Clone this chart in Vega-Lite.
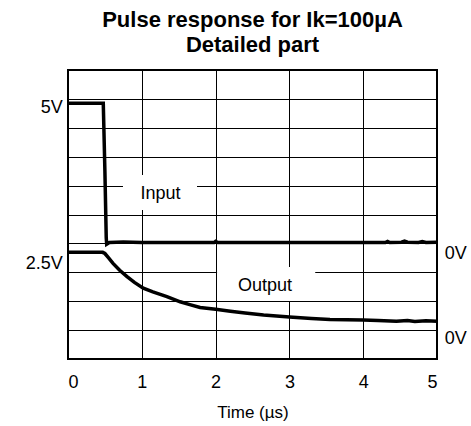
{
  "$schema": "https://vega.github.io/schema/vega-lite/v6.json",
  "width": 369,
  "height": 289,
  "autosize": {"type": "none"},
  "padding": {"left": 68, "top": 70, "right": 34, "bottom": 67},
  "background": "white",
  "title": {
    "text": ["Pulse response for Ik=100µA", "Detailed part"],
    "font": "Liberation Sans",
    "fontSize": 22,
    "fontWeight": "bold",
    "lineHeight": 25,
    "anchor": "middle",
    "color": "black",
    "offset": 13
  },
  "config": {
    "view": {"stroke": "black", "strokeWidth": 2},
    "font": "Liberation Sans",
    "axis": {
      "grid": true,
      "gridColor": "black",
      "gridOpacity": 1,
      "gridWidth": 1,
      "domain": false,
      "ticks": false,
      "labelFont": "Liberation Sans",
      "titleFont": "Liberation Sans",
      "labelColor": "black",
      "titleColor": "black"
    }
  },
  "datasets": {
    "signals": [
      {"t": 0, "v": 8.85, "series": "Input"},
      {"t": 0.478, "v": 8.85, "series": "Input"},
      {"t": 0.5, "v": 6.5, "series": "Input"},
      {"t": 0.518, "v": 4.2, "series": "Input"},
      {"t": 0.524, "v": 3.97, "series": "Input"},
      {"t": 0.56, "v": 4.03, "series": "Input"},
      {"t": 0.75, "v": 4.05, "series": "Input"},
      {"t": 1.0, "v": 4.03, "series": "Input"},
      {"t": 1.5, "v": 4.03, "series": "Input"},
      {"t": 1.98, "v": 4.03, "series": "Input"},
      {"t": 2.0, "v": 4.07, "series": "Input"},
      {"t": 2.03, "v": 4.03, "series": "Input"},
      {"t": 3.0, "v": 4.03, "series": "Input"},
      {"t": 4.0, "v": 4.03, "series": "Input"},
      {"t": 4.3, "v": 4.03, "series": "Input"},
      {"t": 4.33, "v": 4.07, "series": "Input"},
      {"t": 4.36, "v": 4.03, "series": "Input"},
      {"t": 4.52, "v": 4.04, "series": "Input"},
      {"t": 4.56, "v": 4.08, "series": "Input"},
      {"t": 4.6, "v": 4.04, "series": "Input"},
      {"t": 4.75, "v": 4.03, "series": "Input"},
      {"t": 4.8, "v": 4.06, "series": "Input"},
      {"t": 4.85, "v": 4.03, "series": "Input"},
      {"t": 5.0, "v": 4.04, "series": "Input"},
      {"t": 0, "v": 3.69, "series": "Output"},
      {"t": 0.47, "v": 3.69, "series": "Output"},
      {"t": 0.5, "v": 3.65, "series": "Output"},
      {"t": 0.55, "v": 3.5, "series": "Output"},
      {"t": 0.61, "v": 3.31, "series": "Output"},
      {"t": 0.7, "v": 3.07, "series": "Output"},
      {"t": 0.8, "v": 2.85, "series": "Output"},
      {"t": 0.9, "v": 2.65, "series": "Output"},
      {"t": 1.02, "v": 2.45, "series": "Output"},
      {"t": 1.15, "v": 2.32, "series": "Output"},
      {"t": 1.34, "v": 2.16, "series": "Output"},
      {"t": 1.52, "v": 1.98, "series": "Output"},
      {"t": 1.65, "v": 1.88, "series": "Output"},
      {"t": 1.79, "v": 1.78, "series": "Output"},
      {"t": 2.0, "v": 1.72, "series": "Output"},
      {"t": 2.2, "v": 1.65, "series": "Output"},
      {"t": 2.4, "v": 1.59, "series": "Output"},
      {"t": 2.65, "v": 1.52, "series": "Output"},
      {"t": 3.0, "v": 1.45, "series": "Output"},
      {"t": 3.3, "v": 1.4, "series": "Output"},
      {"t": 3.55, "v": 1.37, "series": "Output"},
      {"t": 4.0, "v": 1.35, "series": "Output"},
      {"t": 4.2, "v": 1.33, "series": "Output"},
      {"t": 4.45, "v": 1.31, "series": "Output"},
      {"t": 4.6, "v": 1.33, "series": "Output"},
      {"t": 4.7, "v": 1.3, "series": "Output"},
      {"t": 4.85, "v": 1.32, "series": "Output"},
      {"t": 5.0, "v": 1.31, "series": "Output"}
    ],
    "labels": [
      {"t": -0.07, "v": 8.69, "label": "5V", "side": "left"},
      {"t": -0.07, "v": 3.27, "label": "2.5V", "side": "left"},
      {"t": 5.105, "v": 3.62, "label": "0V", "side": "right"},
      {"t": 5.105, "v": 0.69, "label": "0V", "side": "right"},
      {"t": 1.253, "v": 5.7, "label": "Input", "side": "center"},
      {"t": 2.67, "v": 2.54, "label": "Output", "side": "center"}
    ],
    "boxes": [
      {"t1": 0.745, "t2": 1.748, "v1": 5.16, "v2": 6.37},
      {"t1": 2.02, "t2": 3.35, "v1": 2.01, "v2": 3.18}
    ]
  },
  "layer": [
    {
      "data": {"name": "boxes"},
      "mark": {"type": "rect", "color": "white"},
      "encoding": {
        "x": {"field": "t1", "type": "quantitative", "scale": {"domain": [0, 5]},
          "axis": {"values": [0, 1, 2, 3, 4, 5], "format": "d", "title": "Time (µs)", "labelFontSize": 18, "titleFontSize": 17, "titleFontWeight": "normal", "labelPadding": 14, "titlePadding": 13}},
        "x2": {"field": "t2"},
        "y": {"field": "v1", "type": "quantitative", "scale": {"domain": [0, 10]},
          "axis": {"values": [0, 1, 2, 3, 4, 5, 6, 7, 8, 9, 10], "labels": false, "title": null}},
        "y2": {"field": "v2"}
      }
    },
    {
      "data": {"name": "signals"},
      "mark": {"type": "line", "color": "black", "strokeWidth": 3.5, "strokeJoin": "miter"},
      "encoding": {
        "x": {"field": "t", "type": "quantitative", "scale": {"domain": [0, 5]},
          "axis": {"values": [0, 1, 2, 3, 4, 5], "format": "d", "title": "Time (µs)", "labelFontSize": 18, "titleFontSize": 17, "titleFontWeight": "normal", "labelPadding": 14, "titlePadding": 13}},
        "y": {"field": "v", "type": "quantitative", "scale": {"domain": [0, 10]},
          "axis": {"values": [0, 1, 2, 3, 4, 5, 6, 7, 8, 9, 10], "labels": false, "title": null}},
        "detail": {"field": "series"}
      }
    },
    {
      "data": {"name": "labels"},
      "transform": [{"filter": "datum.side === 'left'"}],
      "mark": {"type": "text", "align": "right", "baseline": "middle", "fontSize": 18, "color": "black"},
      "encoding": {
        "x": {"field": "t", "type": "quantitative", "scale": {"domain": [0, 5]},
          "axis": {"values": [0, 1, 2, 3, 4, 5], "format": "d", "title": "Time (µs)", "labelFontSize": 18, "titleFontSize": 17, "titleFontWeight": "normal", "labelPadding": 14, "titlePadding": 13}},
        "y": {"field": "v", "type": "quantitative", "scale": {"domain": [0, 10]},
          "axis": {"values": [0, 1, 2, 3, 4, 5, 6, 7, 8, 9, 10], "labels": false, "title": null}},
        "text": {"field": "label"}
      }
    },
    {
      "data": {"name": "labels"},
      "transform": [{"filter": "datum.side === 'right'"}],
      "mark": {"type": "text", "align": "left", "baseline": "middle", "fontSize": 18, "color": "black"},
      "encoding": {
        "x": {"field": "t", "type": "quantitative", "scale": {"domain": [0, 5]},
          "axis": {"values": [0, 1, 2, 3, 4, 5], "format": "d", "title": "Time (µs)", "labelFontSize": 18, "titleFontSize": 17, "titleFontWeight": "normal", "labelPadding": 14, "titlePadding": 13}},
        "y": {"field": "v", "type": "quantitative", "scale": {"domain": [0, 10]},
          "axis": {"values": [0, 1, 2, 3, 4, 5, 6, 7, 8, 9, 10], "labels": false, "title": null}},
        "text": {"field": "label"}
      }
    },
    {
      "data": {"name": "labels"},
      "transform": [{"filter": "datum.side === 'center'"}],
      "mark": {"type": "text", "align": "center", "baseline": "middle", "fontSize": 18, "color": "black"},
      "encoding": {
        "x": {"field": "t", "type": "quantitative", "scale": {"domain": [0, 5]},
          "axis": {"values": [0, 1, 2, 3, 4, 5], "format": "d", "title": "Time (µs)", "labelFontSize": 18, "titleFontSize": 17, "titleFontWeight": "normal", "labelPadding": 14, "titlePadding": 13}},
        "y": {"field": "v", "type": "quantitative", "scale": {"domain": [0, 10]},
          "axis": {"values": [0, 1, 2, 3, 4, 5, 6, 7, 8, 9, 10], "labels": false, "title": null}},
        "text": {"field": "label"}
      }
    }
  ]
}
